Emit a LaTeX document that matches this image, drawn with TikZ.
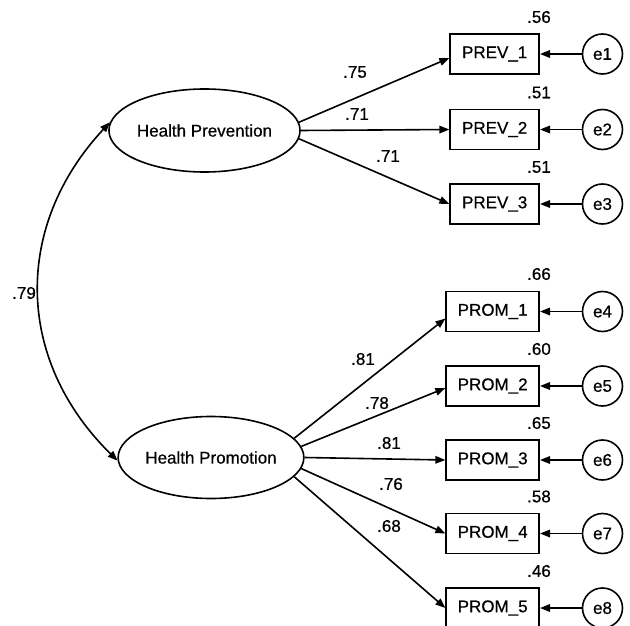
\documentclass[tikz,border=0pt]{standalone}
\usepackage{fontspec}
\setmainfont[FakeBold=0.6]{Liberation Sans}
\usetikzlibrary{arrows.meta,shapes.geometric,calc}
\begin{document}
\begin{tikzpicture}[x=1pt,y=1pt,
  every node/.style={font=\fontsize{17}{20}\selectfont},
  lat/.style={draw,ellipse,line width=1.6pt,inner sep=0pt},
  obs/.style={draw,rectangle,line width=1.6pt,inner sep=0pt,minimum height=40,anchor=east},
  err/.style={draw,circle,line width=1.6pt,inner sep=0pt,minimum size=40},
  arr/.style={line width=1.6pt,-{Triangle[length=10pt,width=7.5pt]}},
  coef/.style={inner sep=0pt}]
\useasboundingbox (0,0) rectangle (630,-626);
% latent variables
\node[lat,minimum width=183,minimum height=83] (hp) at (204.5,-130.5) {Health Prevention};
\node[lat,minimum width=181,minimum height=82] (hm) at (211,-457.5) {Health Promotion};
% observed variables
\node[obs,minimum width=89] (b1) at (540,-54) {PREV\_1};
\node[obs,minimum width=89] (b2) at (540,-129.5) {PREV\_2};
\node[obs,minimum width=89] (b3) at (540,-204) {PREV\_3};
\node[obs,minimum width=93] (b4) at (540,-311.5) {PROM\_1};
\node[obs,minimum width=93] (b5) at (540,-386) {PROM\_2};
\node[obs,minimum width=93] (b6) at (540,-460) {PROM\_3};
\node[obs,minimum width=93] (b7) at (540,-533.5) {PROM\_4};
\node[obs,minimum width=93] (b8) at (540,-608) {PROM\_5};
% errors
\node[err] (e1) at (602.5,-54) {e1};
\node[err] (e2) at (602.5,-129.5) {e2};
\node[err] (e3) at (602.5,-204) {e3};
\node[err] (e4) at (602.5,-311.5) {e4};
\node[err] (e5) at (602.5,-386) {e5};
\node[err] (e6) at (602.5,-460) {e6};
\node[err] (e7) at (602.5,-533.5) {e7};
\node[err] (e8) at (602.5,-608) {e8};
% squared multiple correlations
\node[coef] (r1) at (539,-17) {.56};
\node[coef] (r2) at (539,-92.5) {.51};
\node[coef] (r3) at (539,-167) {.51};
\node[coef] (r4) at (539,-274) {.66};
\node[coef] (r5) at (539,-349) {.60};
\node[coef] (r6) at (539,-423) {.65};
\node[coef] (r7) at (539,-496.5) {.58};
\node[coef] (r8) at (539,-571) {.46};
% loadings
\draw[arr] (hp.5) -- ($(b1.west)+(0,-4)$);
\draw[arr] (hp.0) -- (b2.west);
\draw[arr] (hp.-5) -- (b3.west);
\draw[arr] (hm.13) -- ($(b4.west)+(0,-7)$);
\draw[arr] (hm.7) -- ($(b5.west)+(0,-2)$);
\draw[arr] (hm.0) -- (b6.west);
\draw[arr] (hm.-7) -- (b7.west);
\draw[arr] (hm.-13) -- (b8.west);
% error paths
\foreach \i in {1,...,8} {\draw[arr] (e\i) -- (b\i);}
% loading labels
\node[coef] (c1) at (355,-72) {.75};
\node[coef] (c2) at (357,-114) {.71};
\node[coef] (c3) at (388,-156) {.71};
\node[coef] (c4) at (363,-359) {.81};
\node[coef] (c5) at (377,-403) {.78};
\node[coef] (c6) at (389,-443) {.81};
\node[coef] (c7) at (391,-484) {.76};
\node[coef] (c8) at (389,-526) {.68};
% covariance
\draw[line width=1.6pt,{Triangle[length=10pt,width=7.5pt]}-{Triangle[length=10pt,width=7.5pt]}]
  (hp.175) .. controls (14,-225) and (14,-359) .. (hm.182);
\node[coef] (cv) at (24,-293) {.79};
\end{tikzpicture}
\end{document}
